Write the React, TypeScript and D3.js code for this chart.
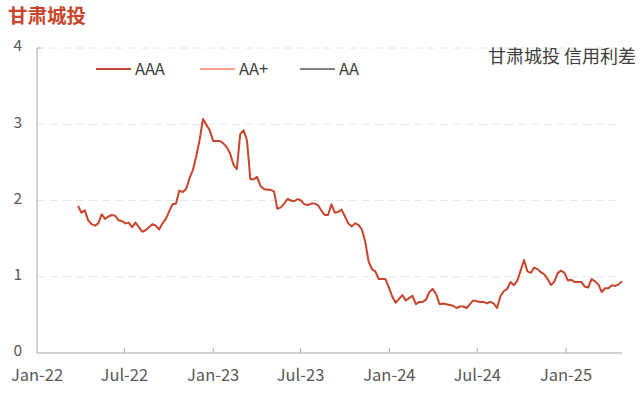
import React from "react";
import * as d3 from "d3";

const TITLE = "甘肃城投";
const SUBTITLE = "甘肃城投 信用利差";
const SERIES_NAMES = ["AAA", "AA+", "AA"];
const SERIES_COLORS = ["#C8442A", "#F2A48C", "#808080"];
const Y_TICKS = [0, 1, 2, 3, 4];
const X_TICK_DATES = ["2022-01-01", "2022-07-01", "2023-01-01", "2023-07-01", "2024-01-01", "2024-07-01", "2025-01-01"];
const X_DOMAIN = ["2022-01-01", "2025-04-27"];
const START_DATE = "2022-03-27";

// AAA weekly credit spread (%)
const AAA = [
  1.93, 1.84, 1.87, 1.74, 1.69, 1.67, 1.70, 1.82, 1.76, 1.79,
  1.81, 1.80, 1.74, 1.73, 1.70, 1.71, 1.65, 1.71, 1.65, 1.59,
  1.61, 1.65, 1.69, 1.67, 1.62, 1.70, 1.76, 1.86, 1.95, 1.96,
  2.13, 2.11, 2.15, 2.29, 2.40, 2.58, 2.80, 3.07, 2.99, 2.92,
  2.78, 2.78, 2.78, 2.75, 2.70, 2.62, 2.47, 2.41, 2.87, 2.92,
  2.79, 2.28, 2.28, 2.31, 2.19, 2.15, 2.14, 2.14, 2.12, 1.89,
  1.91, 1.96, 2.02, 2.00, 1.99, 2.02, 2.00, 1.95, 1.94, 1.96,
  1.96, 1.94, 1.87, 1.81, 1.81, 1.95, 1.84, 1.85, 1.88, 1.79,
  1.70, 1.66, 1.70, 1.68, 1.62, 1.46, 1.20, 1.10, 1.07, 0.97,
  0.97, 0.97, 0.86, 0.74, 0.66, 0.71, 0.76, 0.69, 0.72, 0.75,
  0.64, 0.67, 0.67, 0.70, 0.80, 0.84, 0.77, 0.64, 0.65, 0.64,
  0.63, 0.62, 0.59, 0.61, 0.61, 0.59, 0.64, 0.69, 0.68, 0.67,
  0.67, 0.65, 0.67, 0.65, 0.59, 0.74, 0.81, 0.84, 0.93, 0.89,
  0.95, 1.08, 1.22, 1.07, 1.05, 1.12, 1.10, 1.06, 1.03, 0.97,
  0.89, 0.94, 1.05, 1.08, 1.05, 0.95, 0.96, 0.93, 0.93, 0.93,
  0.87, 0.86, 0.97, 0.94, 0.90, 0.80, 0.85, 0.85, 0.89, 0.88,
  0.90, 0.94,
];

const W = 640;
const H = 393;
const M = { left: 37, right: 622, top: 48, bottom: 353 };
const FONT = "'Noto Sans CJK SC', 'Noto Sans', sans-serif";

export default function App() {
  const parse = d3.timeParse("%Y-%m-%d");
  const start = parse(START_DATE) as Date;
  const data = AAA.map((v, i) => ({ date: d3.timeDay.offset(start, i * 7), value: v }));

  const x = d3
    .scaleTime()
    .domain(X_DOMAIN.map((d) => parse(d) as Date))
    .range([M.left, M.right]);
  const y = d3.scaleLinear().domain([0, 4]).range([M.bottom, M.top]);

  const line = d3
    .line<{ date: Date; value: number }>()
    .x((d) => x(d.date))
    .y((d) => y(d.value));

  const fmt = d3.timeFormat("%b-%y");
  const xTicks = X_TICK_DATES.map((d) => parse(d) as Date);

  const legendX = [96, 200, 300];

  return (
    <svg
      width={W}
      height={H}
      style={{ position: "absolute", left: 0, top: 0, display: "block", background: "#fff" }}
      fontFamily={FONT}
    >
      <text x={8} y={23} fontSize={19.5} fontWeight={700} fill="#C8442A">
        {TITLE}
      </text>

      {Y_TICKS.filter((t) => t > 0).map((t) => (
        <line
          key={"g" + t}
          x1={M.left}
          x2={M.right}
          y1={y(t)}
          y2={y(t)}
          stroke="#E6E6E6"
          strokeWidth={1}
          strokeDasharray="8,5"
        />
      ))}

      {Y_TICKS.map((t) => (
        <text
          key={"yl" + t}
          x={22}
          y={y(t) - 2}
          dy="0.35em"
          textAnchor="end"
          fontSize={15.5}
          fill="#595959"
        >
          {t}
        </text>
      ))}

      <line x1={M.left} x2={M.left} y1={M.top} y2={M.bottom} stroke="#A6A6A6" strokeWidth={1} />
      <line x1={M.left} x2={M.left + 4} y1={M.top} y2={M.top} stroke="#A6A6A6" strokeWidth={1} />
      <line x1={M.left} x2={M.right} y1={M.bottom} y2={M.bottom} stroke="#A6A6A6" strokeWidth={1.2} />

      {xTicks.map((d, i) => (
        <g key={"xt" + i}>
          {i > 0 && (
            <line x1={x(d)} x2={x(d)} y1={M.bottom} y2={M.bottom - 5} stroke="#A6A6A6" strokeWidth={1} />
          )}
          <text x={x(d)} y={375} dy="0.35em" textAnchor="middle" fontSize={16.5} fill="#595959">
            {fmt(d)}
          </text>
        </g>
      ))}

      <path d={line(data) || ""} fill="none" stroke={SERIES_COLORS[0]} strokeWidth={2} strokeLinejoin="round" />

      {SERIES_NAMES.map((n, i) => (
        <g key={"lg" + n}>
          <line
            x1={legendX[i]}
            x2={legendX[i] + 35}
            y1={69}
            y2={69}
            stroke={SERIES_COLORS[i]}
            strokeWidth={2}
          />
          <text x={legendX[i] + 39} y={69} dy="0.35em" fontSize={16.5} fill="#404040">
            {n}
          </text>
        </g>
      ))}

      <text x={636} y={57} dy="0.35em" textAnchor="end" fontSize={18} fill="#404040">
        {SUBTITLE}
      </text>
    </svg>
  );
}
